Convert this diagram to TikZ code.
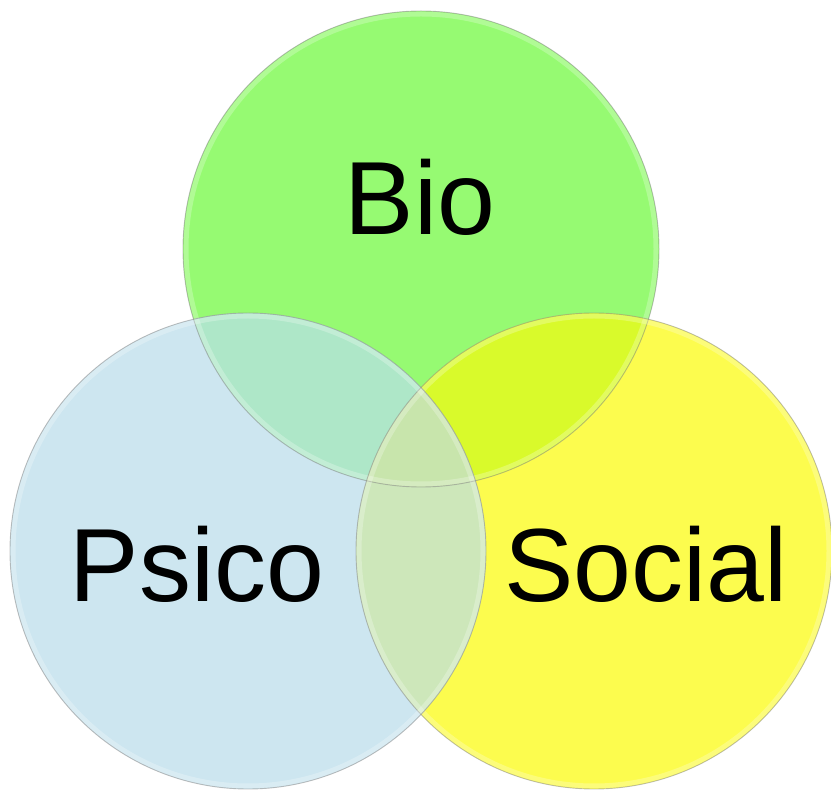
\documentclass[tikz,border=0pt]{standalone}
\usepackage{fontspec}
\setmainfont{Liberation Sans}
\definecolor{biogreen}{HTML}{96FA72}
\definecolor{psicoblue}{HTML}{CDE6F0}
\definecolor{socialyellow}{HTML}{FCFC4E}
\definecolor{biosocial}{HTML}{D9FA2B}
\definecolor{biopsico}{HTML}{AEE7C8}
\definecolor{psicosocial}{HTML}{CDE7BA}
\definecolor{allthree}{HTML}{C8E5AC}
\begin{document}
\begin{tikzpicture}[x=1pt,y=-1pt,
    ring/.style = {draw=black!45, line width=0.9pt, draw opacity=0.55},
    shine/.style = {draw=white, line width=5pt, draw opacity=0.25},
    word/.style = {font=\fontsize{104}{104}\selectfont, anchor=base}]
  \useasboundingbox (0,0) rectangle (831,791);
  \def\rad{238pt}
  \coordinate (bio) at (421,249);
  \coordinate (psico) at (248,551);
  \coordinate (social) at (594,551);
    %
  \fill[biogreen] (bio) circle (\rad);
  \fill[socialyellow] (social) circle (\rad);
  \fill[psicoblue] (psico) circle (\rad);
  \begin{scope}
    \clip (bio) circle (\rad);
    \fill[biosocial] (social) circle (\rad);
    \fill[biopsico] (psico) circle (\rad);
  \end{scope}
  \begin{scope}
    \clip (social) circle (\rad);
    \fill[psicosocial] (psico) circle (\rad);
    \clip (psico) circle (\rad);
    \fill[allthree] (bio) circle (\rad);
  \end{scope}
    %
  \foreach \c in {bio,social,psico} {
    \draw[shine] (\c) circle (235pt);
    \draw[ring] (\c) circle (\rad);
  }
    %
  \node[word] (biotext) at (420,235) {Bio};
  \node[word] (psicotext) at (197,602) {Psico};
  \node[word] (socialtext) at (646,602) {Social};
\end{tikzpicture}
\end{document}
